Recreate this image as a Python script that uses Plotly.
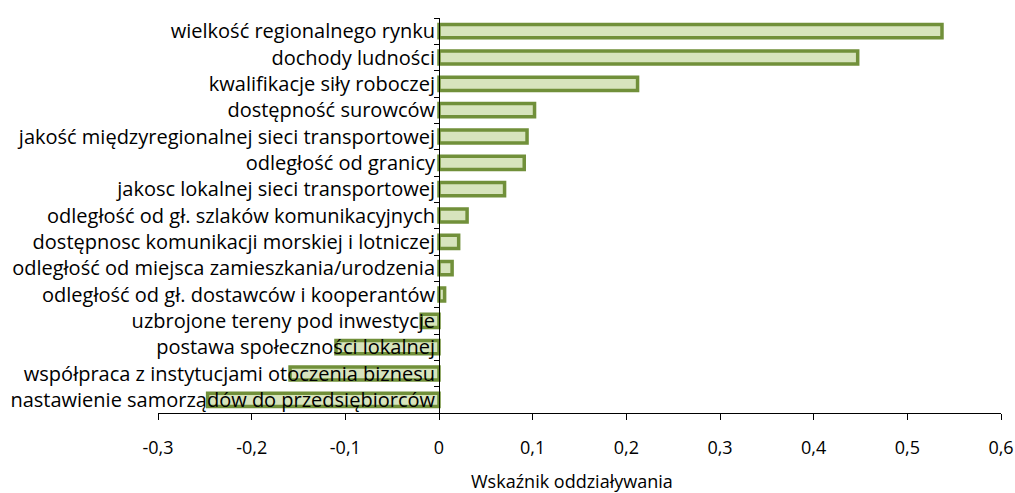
import plotly.graph_objects as go

categories = [
    "wielkość regionalnego rynku",
    "dochody ludności",
    "kwalifikacje siły roboczej",
    "dostępność surowców",
    "jakość międzyregionalnej sieci transportowej",
    "odległość od granicy",
    "jakosc lokalnej sieci transportowej",
    "odległość od gł. szlaków komunikacyjnych",
    "dostępnosc komunikacji morskiej i lotniczej",
    "odległość od miejsca zamieszkania/urodzenia",
    "odległość od gł. dostawców i kooperantów",
    "uzbrojone tereny pod inwestycje",
    "postawa społeczności lokalnej",
    "współpraca z instytucjami otoczenia biznesu",
    "nastawienie samorządów do przedsiębiorców",
]
values = [0.537, 0.447, 0.212, 0.102, 0.094, 0.091, 0.070, 0.030,
          0.021, 0.014, 0.006, -0.019, -0.110, -0.159, -0.247]

tick_vals = [-0.3, -0.2, -0.1, 0.0, 0.1, 0.2, 0.3, 0.4, 0.5, 0.6]
tick_text = ["-0,3", "-0,2", "-0,1", "0", "0,1", "0,2", "0,3", "0,4", "0,5", "0,6"]
x_title = "Wskaźnik oddziaływania"

FONT = "Open Sans"
L, R, T, B = 158, 14, 18, 80
W, H = 1015, 493
PW = W - L - R
PH = H - T - B

fig = go.Figure(go.Bar(
    x=values,
    y=categories,
    orientation="h",
    marker=dict(color="#D7E4BD", line=dict(color="#71903A", width=3.5)),
    width=0.5,
))

fig.update_layout(
    width=W, height=H,
    margin=dict(l=L, r=R, t=T, b=B, autoexpand=False),
    paper_bgcolor="white", plot_bgcolor="white",
    showlegend=False,
    font=dict(family=FONT, size=20, color="black"),
    xaxis=dict(
        range=[-0.3, 0.6],
        tickvals=tick_vals, ticktext=tick_text,
        showgrid=False, zeroline=False,
        showline=True, linecolor="black", linewidth=1,
        ticks="outside", ticklen=6, tickcolor="black",
        ticklabelstandoff=12,
        automargin=False,
        tickfont=dict(family=FONT, size=18),
    ),
    yaxis=dict(
        autorange="reversed",
        anchor="free", position=1/3,
        showgrid=False, zeroline=False,
        showline=True, linecolor="black", linewidth=1,
        ticks="outside", ticklen=5, tickcolor="black",
        tickson="boundaries",
        automargin=False,
        tickfont=dict(family=FONT, size=20),
    ),
    annotations=[dict(
        text=x_title, xref="paper", yref="paper",
        x=(572 - L) / PW, y=-(480.5 - (T + PH)) / PH, yanchor="middle",
        showarrow=False, font=dict(family=FONT, size=18),
    )],
)

fig.write_html(
    "out.html",
    config={"displayModeBar": False},
    post_script="document.body.style.margin='0';document.body.style.overflow='hidden';",
)
